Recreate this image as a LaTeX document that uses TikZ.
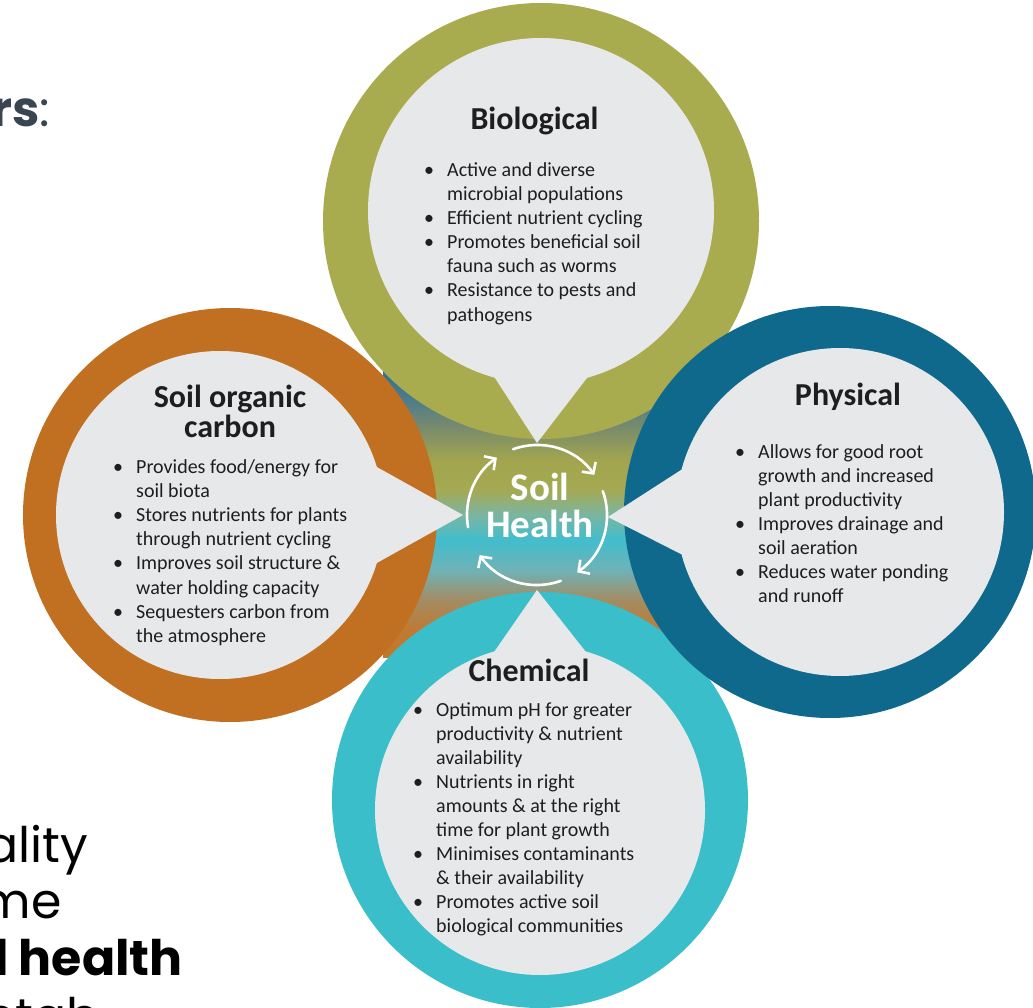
\documentclass[tikz,border=0pt]{standalone}
\usepackage{fontspec}
\setmainfont{Carlito}
\newfontfamily\slidefont{Poppins}
\usetikzlibrary{arrows.meta,calc}

% ring colours
\definecolor{bioGreen}{HTML}{A8AC4E}
\definecolor{carbonOrange}{HTML}{C07020}
\definecolor{physBlue}{HTML}{0F698C}
\definecolor{chemCyan}{HTML}{3ABECA}
\definecolor{paper}{HTML}{E7E8EA}
\definecolor{ink}{HTML}{1E1E1E}
\definecolor{slate}{HTML}{3A4552}
% colours of the blended core
\definecolor{grA}{HTML}{C4762C}
\definecolor{grB}{HTML}{BF7A33}
\definecolor{grC}{HTML}{A38C63}
\definecolor{grD}{HTML}{6FB2B6}
\definecolor{grE}{HTML}{42BDCD}
\definecolor{grF}{HTML}{7DB59F}
\definecolor{grG}{HTML}{A4A952}
\definecolor{grH}{HTML}{A2A54E}
\definecolor{grI}{HTML}{7C8D6A}
\definecolor{grJ}{HTML}{4E7C89}
\definecolor{grK}{HTML}{2F7193}

\pgfdeclareverticalshading{soilcore}{100bp}{%
  color(0bp)=(grA); color(25bp)=(grA); color(29.7bp)=(grB);
  color(35bp)=(grC); color(40.2bp)=(grD); color(45.5bp)=(grE);
  color(50bp)=(grF); color(54.2bp)=(grG); color(59.4bp)=(grH);
  color(64.7bp)=(grI); color(69.9bp)=(grJ); color(75bp)=(grK);
  color(100bp)=(grK)}

% one bullet entry with a hanging indent
\newcommand\bitem[1]{\par\noindent\hangindent=23pt\hangafter=1%
  \makebox[23pt][l]{\textbullet}#1}
\newcommand\bulletblock[1]{\parbox[t]{320pt}{\raggedright
  \fontsize{20pt}{24.1pt}\selectfont #1}}

\tikzset{
  cyc/.style={white, line width=2.6pt, line cap=round,
    -{Straight Barb[length=8pt,width=17pt,line width=2.6pt]}},
  heading/.style={anchor=base, inner sep=0pt, text=ink,
    font=\fontsize{32pt}{30pt}\selectfont\bfseries, align=center},
  points/.style={anchor=base west, inner sep=0pt, text=ink},
  slide/.style={anchor=base east, inner sep=0pt,
    font=\slidefont\fontsize{49pt}{56pt}\selectfont},
}

\begin{document}
\begin{tikzpicture}[x=1pt, y=-1pt]
\useasboundingbox (0,0) rectangle (1033,1008);
\fill[white] (0,0) rectangle (1033,1008);

% blended core between the four bubbles
\fill[shading=soilcore] (383,371) rectangle (690,657);

% soil organic carbon bubble
\fill[carbonOrange] (230,515) circle[radius=207];
\fill[paper] (220,515) circle[radius=164];
\fill[paper] (220,515) -- (376.8,467) -- (463,515) -- (376.8,563) -- cycle;

% chemical bubble
\fill[chemCyan] (540,800) circle[radius=208];
\fill[paper] (540,810) circle[radius=165];
\fill[paper] (540,810) -- (494.5,651.4) -- (537,590) -- (585.5,651.4) -- cycle;

% biological bubble
\fill[bioGreen] (541,221) circle[radius=218];
\fill[paper] (541,211) circle[radius=173];
\fill[paper] (541,211) -- (494.8,377.7) -- (537,443) -- (587.2,377.7) -- cycle;

% physical bubble
\fill[physBlue] (830,512) circle[radius=206];
\fill[paper] (840,512) circle[radius=164];
\fill[paper] (840,512) -- (681.6,469.6) -- (608,517) -- (681.6,554.4) -- cycle;

% cycle of arrows round the hub
\coordinate (hub) at (537,515);
\foreach \a/\b in {170/235, 250/325, 340/415, 70/145}
  \draw[cyc] ($(hub)+(\a:70)$) arc[start angle=\a, end angle=\b, radius=70];
\node[anchor=base, inner sep=0pt, text=white,
  font=\fontsize{39pt}{37pt}\selectfont\bfseries] (hubtext) at (540,500)
  {\parbox[t]{200pt}{\centering Soil\\Health}};

% headings
\node[heading] (bioTitle) at (534.5,130) {Biological};
\node[heading] (carbonTitle) at (230,407) {\parbox[t]{250pt}{\centering
  \fontsize{32pt}{30pt}\selectfont\bfseries Soil organic\\carbon}};
\node[heading] (physTitle) at (848,405) {Physical};
\node[heading] (chemTitle) at (529,681) {Chemical};

% bullet lists
\node[points] (bioList) at (424,176.5) {\bulletblock{%
  \bitem{Active and diverse\newline microbial populations}
  \bitem{Efficient nutrient cycling}
  \bitem{Promotes beneficial soil\newline fauna such as worms}
  \bitem{Resistance to pests and\newline pathogens}}};
\node[points] (carbonList) at (113,473.5) {\bulletblock{%
  \bitem{Provides food/energy for\newline soil biota}
  \bitem{Stores nutrients for plants\newline through nutrient cycling}
  \bitem{Improves soil structure \&\newline water holding capacity}
  \bitem{Sequesters carbon from\newline the atmosphere}}};
\node[points] (physList) at (735,458) {\bulletblock{%
  \bitem{Allows for good root\newline growth and increased\newline plant productivity}
  \bitem{Improves drainage and\newline soil aeration}
  \bitem{Reduces water ponding\newline and runoff}}};
\node[points] (chemList) at (413,716) {\bulletblock{%
  \bitem{Optimum pH for greater\newline productivity \& nutrient\newline availability}
  \bitem{Nutrients in right\newline amounts \& at the right\newline time for plant growth}
  \bitem{Minimises contaminants\newline \& their availability}
  \bitem{Promotes active soil\newline biological communities}}};

% slide text running off the page edges
\node[slide, text=slate] (lead) at (50,127) {\textbf{rs}:};
\node[slide, text=black] (lineA) at (88,862) {ality};
\node[slide, text=black] (lineB) at (62,918) {me};
\node[slide, text=black] (lineC) at (183,975) {\textbf{l health}};
\node[slide, text=black] (lineD) at (100,1033) {ntab};
\end{tikzpicture}
\end{document}
